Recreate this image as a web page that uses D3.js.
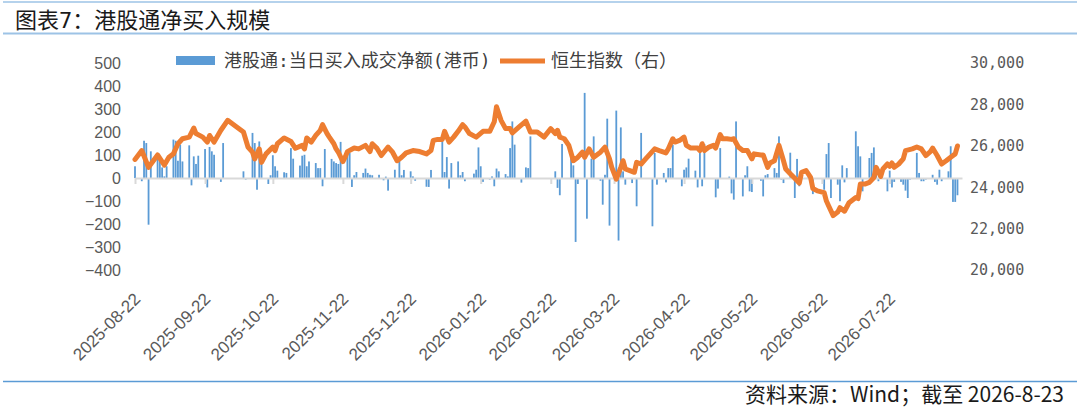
<!DOCTYPE html>
<html>
<head>
<meta charset="utf-8">
<script src="https://cdn.jsdelivr.net/npm/d3@7"></script>
<style>
  body { margin: 0; background: #fff; }
</style>
</head>
<body>
<div id="container"></div>
<script>
var width = 1080,
    height = 407;

// 港股通:当日买入成交净额(港币), 亿港元
var flowDates = [
  "2025-08-22","2025-08-25","2025-08-26","2025-08-27","2025-08-28","2025-08-29",
  "2025-09-01","2025-09-02","2025-09-03","2025-09-04","2025-09-05","2025-09-08","2025-09-09","2025-09-10","2025-09-11","2025-09-12","2025-09-15","2025-09-16","2025-09-17","2025-09-18","2025-09-19","2025-09-22","2025-09-23","2025-09-24","2025-09-25","2025-09-26","2025-09-29","2025-09-30",
  "2025-10-09","2025-10-10","2025-10-13","2025-10-14","2025-10-15","2025-10-16","2025-10-17","2025-10-20","2025-10-21","2025-10-22","2025-10-23","2025-10-24","2025-10-27","2025-10-28","2025-10-30","2025-10-31",
  "2025-11-03","2025-11-04","2025-11-05","2025-11-06","2025-11-07","2025-11-10","2025-11-11","2025-11-12","2025-11-13","2025-11-14","2025-11-17","2025-11-18","2025-11-19","2025-11-20","2025-11-21","2025-11-24","2025-11-25","2025-11-26","2025-11-27","2025-11-28",
  "2025-12-01","2025-12-02","2025-12-03","2025-12-04","2025-12-05","2025-12-08","2025-12-10","2025-12-11","2025-12-12","2025-12-15","2025-12-17","2025-12-18","2025-12-19","2025-12-22","2025-12-23","2025-12-24","2025-12-29","2025-12-30","2025-12-31",
  "2026-01-05","2026-01-06","2026-01-07","2026-01-08","2026-01-09","2026-01-12","2026-01-13","2026-01-14","2026-01-15","2026-01-19","2026-01-20","2026-01-21","2026-01-22","2026-01-23","2026-01-26","2026-01-27","2026-01-28","2026-01-29","2026-01-30",
  "2026-02-02","2026-02-03","2026-02-04","2026-02-05","2026-02-06","2026-02-09","2026-02-11","2026-02-12","2026-02-13","2026-02-24","2026-02-25","2026-02-26","2026-02-27",
  "2026-03-03","2026-03-04","2026-03-05","2026-03-06","2026-03-09","2026-03-10","2026-03-12","2026-03-13","2026-03-16","2026-03-17","2026-03-18","2026-03-19","2026-03-20","2026-03-23","2026-03-24","2026-03-25","2026-03-26","2026-03-27","2026-03-30",
  "2026-04-01","2026-04-03","2026-04-08","2026-04-09","2026-04-10","2026-04-13","2026-04-14","2026-04-15","2026-04-16","2026-04-17","2026-04-21","2026-04-22","2026-04-23","2026-04-24","2026-04-27","2026-04-28","2026-04-29","2026-04-30",
  "2026-05-01","2026-05-06","2026-05-07","2026-05-08","2026-05-12","2026-05-13","2026-05-14","2026-05-15","2026-05-18","2026-05-19","2026-05-20","2026-05-21","2026-05-22","2026-05-26","2026-05-27","2026-05-28","2026-05-29",
  "2026-06-01","2026-06-02","2026-06-03","2026-06-04","2026-06-05","2026-06-08","2026-06-10","2026-06-11","2026-06-12","2026-06-16","2026-06-18","2026-06-23","2026-06-24","2026-06-25","2026-06-26","2026-06-29","2026-06-30",
  "2026-07-01","2026-07-02","2026-07-03","2026-07-07","2026-07-08","2026-07-09","2026-07-10","2026-07-13","2026-07-14","2026-07-15","2026-07-16","2026-07-17","2026-07-21","2026-07-22","2026-07-23","2026-07-24","2026-07-27","2026-07-28","2026-07-29","2026-07-30","2026-07-31",
  "2026-08-03","2026-08-04","2026-08-05","2026-08-06","2026-08-07","2026-08-10","2026-08-11","2026-08-12","2026-08-13","2026-08-14","2026-08-17","2026-08-18","2026-08-19","2026-08-20","2026-08-21"
];
var flowValues = [
  51,-14,162,152,-203,116,
  87,75,46,7,51,167,162,75,145,72,142,-32,94,61,97,126,-41,135,116,101,-17,152,
  29,-7,196,152,-51,159,61,-26,12,99,51,32,25,22,130,84,
  54,97,101,51,72,65,43,43,-36,126,83,72,65,61,157,119,109,-39,12,26,
  22,41,22,14,12,14,-10,6,-55,36,80,12,35,29,7,-12,-38,-39,35,
  162,26,91,-46,65,72,12,26,-14,19,36,133,51,-17,-7,7,-36,41,29,
  17,7,130,246,145,-20,46,43,181,29,-43,-75,148,
  109,55,-278,-26,370,-177,84,181,-12,-116,14,258,-207,293,-272,220,29,-29,-22,
  -123,196,-210,109,-29,22,-19,43,43,145,-36,36,46,84,32,-41,138,-36,
  148,-84,-46,130,6,-67,-94,246,-80,12,51,-58,-61,-12,-80,12,17,
  43,22,181,-7,-22,110,-87,83,-36,3,-70,-51,104,152,-87,-29,-101,
  55,-19,43,203,138,94,-58,87,109,133,22,-14,-58,32,-41,-17,-17,-29,-55,-87,-7,
  109,22,-14,-14,-7,14,-17,-29,36,-14,29,138,-104,-104,-75
];

// 恒生指数（右）
var hsiDates = [
  "2025-08-22","2025-08-25","2025-08-28",
  "2025-09-01","2025-09-04","2025-09-06","2025-09-08","2025-09-10","2025-09-12","2025-09-15","2025-09-17","2025-09-18","2025-09-21","2025-09-23","2025-09-24","2025-09-26","2025-09-29",
  "2025-10-02","2025-10-06","2025-10-09","2025-10-11","2025-10-13","2025-10-14","2025-10-16","2025-10-17","2025-10-19","2025-10-22","2025-10-23","2025-10-24","2025-10-27","2025-10-30",
  "2025-11-01","2025-11-04","2025-11-05","2025-11-06","2025-11-08","2025-11-10","2025-11-12","2025-11-13","2025-11-15","2025-11-16","2025-11-18","2025-11-19","2025-11-20","2025-11-22","2025-11-23","2025-11-24","2025-11-27","2025-11-29",
  "2025-12-02","2025-12-04","2025-12-05","2025-12-07","2025-12-09","2025-12-12","2025-12-14","2025-12-16","2025-12-18","2025-12-20","2025-12-23","2025-12-26","2025-12-29","2025-12-31",
  "2026-01-01","2026-01-03","2026-01-05","2026-01-06","2026-01-08","2026-01-10","2026-01-12","2026-01-14","2026-01-15","2026-01-17","2026-01-20","2026-01-23","2026-01-26","2026-01-28","2026-01-29","2026-01-31",
  "2026-02-02","2026-02-04","2026-02-05","2026-02-08","2026-02-11","2026-02-13","2026-02-16","2026-02-19","2026-02-22","2026-02-24","2026-02-25","2026-02-26","2026-02-28",
  "2026-03-02","2026-03-04","2026-03-06","2026-03-08","2026-03-09","2026-03-11","2026-03-13","2026-03-16","2026-03-18","2026-03-20","2026-03-21","2026-03-23","2026-03-25","2026-03-26","2026-03-27","2026-03-29","2026-03-31",
  "2026-04-01","2026-04-03","2026-04-05","2026-04-07","2026-04-09","2026-04-11","2026-04-14","2026-04-15","2026-04-17","2026-04-18","2026-04-20","2026-04-22","2026-04-23","2026-04-25","2026-04-28","2026-04-29","2026-04-30",
  "2026-05-01","2026-05-03","2026-05-05","2026-05-06","2026-05-08","2026-05-09","2026-05-11","2026-05-13","2026-05-14","2026-05-16","2026-05-18","2026-05-20","2026-05-22","2026-05-23","2026-05-26","2026-05-27","2026-05-29","2026-05-30",
  "2026-06-01","2026-06-03","2026-06-05","2026-06-06","2026-06-08","2026-06-10","2026-06-12","2026-06-13","2026-06-15","2026-06-17","2026-06-18","2026-06-20","2026-06-23","2026-06-24","2026-06-25","2026-06-27","2026-06-29","2026-06-30",
  "2026-07-02","2026-07-04","2026-07-07","2026-07-08","2026-07-09","2026-07-11","2026-07-13","2026-07-15","2026-07-16","2026-07-18","2026-07-19","2026-07-21","2026-07-22","2026-07-23","2026-07-24","2026-07-26","2026-07-28","2026-07-29",
  "2026-08-01","2026-08-03","2026-08-05","2026-08-07","2026-08-09","2026-08-10","2026-08-12","2026-08-14","2026-08-16","2026-08-18","2026-08-20","2026-08-21"
];
var hsiValues = [
  25340,25770,24960,
  25560,25070,25450,25610,26100,26340,26420,26860,26590,26420,26180,26500,26180,26750,
  27230,26910,26670,25940,25690,25370,25850,25200,25610,25940,25770,26100,26380,26210,
  25880,26020,25850,26380,26180,26500,26750,27020,26590,26420,26100,25850,25690,25240,25450,25720,25890,25850,
  26020,25720,26100,25890,25530,25940,25690,25280,25450,25660,25770,25720,25610,25770,
  26260,26310,26310,26700,26180,26420,26700,27020,26910,26590,26420,26700,26700,27160,27890,27230,
  26830,26830,26620,26910,27190,26670,26670,26420,26830,26590,26750,26420,26340,
  26020,25280,25450,25690,25450,25850,25450,25690,25940,25370,24960,24390,24960,25280,24880,24800,24720,
  25200,25120,25370,25610,25850,25770,25660,25850,26340,26180,26260,26420,26020,25890,25890,25770,26100,
  25770,25940,26020,25890,26540,26340,26340,26310,26340,25940,25770,25770,25370,25610,25560,25560,24960,25170,
  25280,26020,25280,24880,24650,24430,24200,24720,24800,24470,23940,23820,23740,23330,23090,22630,22800,23010,
  22840,23250,23500,23450,24150,24150,24230,24470,24960,24520,24880,25120,25010,25170,24960,25120,25370,25770,
  25850,25940,25850,25530,25720,25890,25530,25120,25280,25450,25610,25990
];

var tickDates = ["2025-08-22","2025-09-22","2025-10-22","2025-11-22","2025-12-22","2026-01-22",
                 "2026-02-22","2026-03-22","2026-04-22","2026-05-22","2026-06-22","2026-07-22"];
var leftTicks = [-400,-300,-200,-100,0,100,200,300,400,500];
var rightTicks = [20000,22000,24000,26000,28000,30000];

var parse = d3.timeParse("%Y-%m-%d");
var mixFont = "'DejaVu Sans Mono','Noto Sans CJK SC',sans-serif";
var cjkFont = "'Noto Sans CJK SC',sans-serif";
var numFont = "'Liberation Sans',Arial,sans-serif";

var svg = d3.select("#container")
            .append("svg")
            .attr("width", width)
            .attr("height", height)
            .style("display", "block");

// 标题和页脚
svg.append("line").attr("x1", 3).attr("x2", 1077).attr("y1", 2).attr("y2", 2)
   .attr("stroke", "#9DC3E6").attr("stroke-width", 1.5);
svg.append("text").attr("x", 15).attr("y", 28)
   .attr("font-family", mixFont).attr("font-size", 22).attr("fill", "#1a1a1a")
   .text("图表7：港股通净买入规模");
svg.append("line").attr("x1", 3).attr("x2", 1077).attr("y1", 33.5).attr("y2", 33.5)
   .attr("stroke", "#9DC3E6").attr("stroke-width", 2);
svg.append("line").attr("x1", 3).attr("x2", 1077).attr("y1", 381.5).attr("y2", 381.5)
   .attr("stroke", "#5B9BD5").attr("stroke-width", 1.5);
svg.append("text").attr("x", 1064).attr("y", 402).attr("text-anchor", "end")
   .attr("font-family", cjkFont).attr("font-size", 21).attr("fill", "#1a1a1a")
   .text("资料来源：Wind；截至 2026-8-23");

// 比例尺
var x = d3.scaleTime()
          .domain([parse("2025-08-22"), parse("2026-08-23")])
          .range([135, 962]);
var yL = d3.scaleLinear().domain([-400, 500]).range([270, 63]);
var yR = d3.scaleLinear().domain([20000, 30000]).range([270, 63]);

// 柱子
svg.append("g")
   .selectAll("rect")
   .data(flowValues)
   .join("rect")
   .attr("x", function(d, i) { return x(parse(flowDates[i])) - 0.9; })
   .attr("width", 1.8)
   .attr("y", function(d) { return yL(Math.max(0, d)); })
   .attr("height", function(d) { return Math.abs(yL(d) - yL(0)); })
   .attr("fill", "#5B9BD5");

// x 轴（在 0 处），标签放在底部
var x_axis = d3.axisBottom(x)
               .tickValues(tickDates.map(parse))
               .tickFormat(d3.timeFormat("%Y-%m-%d"))
               .tickSize(6)
               .tickSizeOuter(0);
var gx = svg.append("g")
            .attr("transform", "translate(0," + yL(0) + ")")
            .call(x_axis);
gx.select(".domain").attr("stroke", "#D9D9D9").attr("stroke-width", 2);
gx.selectAll(".tick line").attr("stroke", "#D9D9D9").attr("stroke-width", 2);
gx.selectAll(".tick text")
  .attr("x", 0).attr("y", 0).attr("dy", 0)
  .attr("transform", "translate(6," + (300 - yL(0)) + ") rotate(-45)")
  .attr("text-anchor", "end")
  .attr("font-family", numFont).attr("font-size", 17).attr("fill", "#595959");

// 恒生指数折线
var line_generator = d3.line()
                       .x(function(d, i) { return x(parse(hsiDates[i])); })
                       .y(function(d) { return yR(d); });
svg.append("path")
   .attr("d", line_generator(hsiValues))
   .attr("fill", "none")
   .attr("stroke", "#ED7D31")
   .attr("stroke-width", 5)
   .attr("stroke-linejoin", "round")
   .attr("stroke-linecap", "round");

// 左轴
var gl = svg.append("g")
            .attr("transform", "translate(121,0)")
            .call(d3.axisLeft(yL).tickValues(leftTicks).tickSize(0).tickPadding(0));
gl.select(".domain").remove();
gl.selectAll("text").attr("font-family", numFont).attr("font-size", 16).attr("fill", "#595959");

// 右轴
var gr = svg.append("g")
            .attr("transform", "translate(970,0)")
            .call(d3.axisRight(yR).tickValues(rightTicks).tickFormat(d3.format(",")).tickSize(0).tickPadding(0));
gr.select(".domain").remove();
gr.selectAll("text").attr("font-family", mixFont).attr("font-size", 15).attr("fill", "#595959");

// 图例
var legend = svg.append("g");
legend.append("rect").attr("x", 176).attr("y", 56).attr("width", 39).attr("height", 9)
      .attr("fill", "#5B9BD5");
legend.append("text").attr("x", 224).attr("y", 67)
      .attr("font-family", mixFont).attr("font-size", 18).attr("fill", "#404040")
      .text("港股通:当日买入成交净额(港币)");
legend.append("line").attr("x1", 500).attr("x2", 545).attr("y1", 61).attr("y2", 61)
      .attr("stroke", "#ED7D31").attr("stroke-width", 5);
legend.append("text").attr("x", 551).attr("y", 67)
      .attr("font-family", cjkFont).attr("font-size", 18).attr("fill", "#404040")
      .text("恒生指数（右）");
</script>
</body>
</html>
